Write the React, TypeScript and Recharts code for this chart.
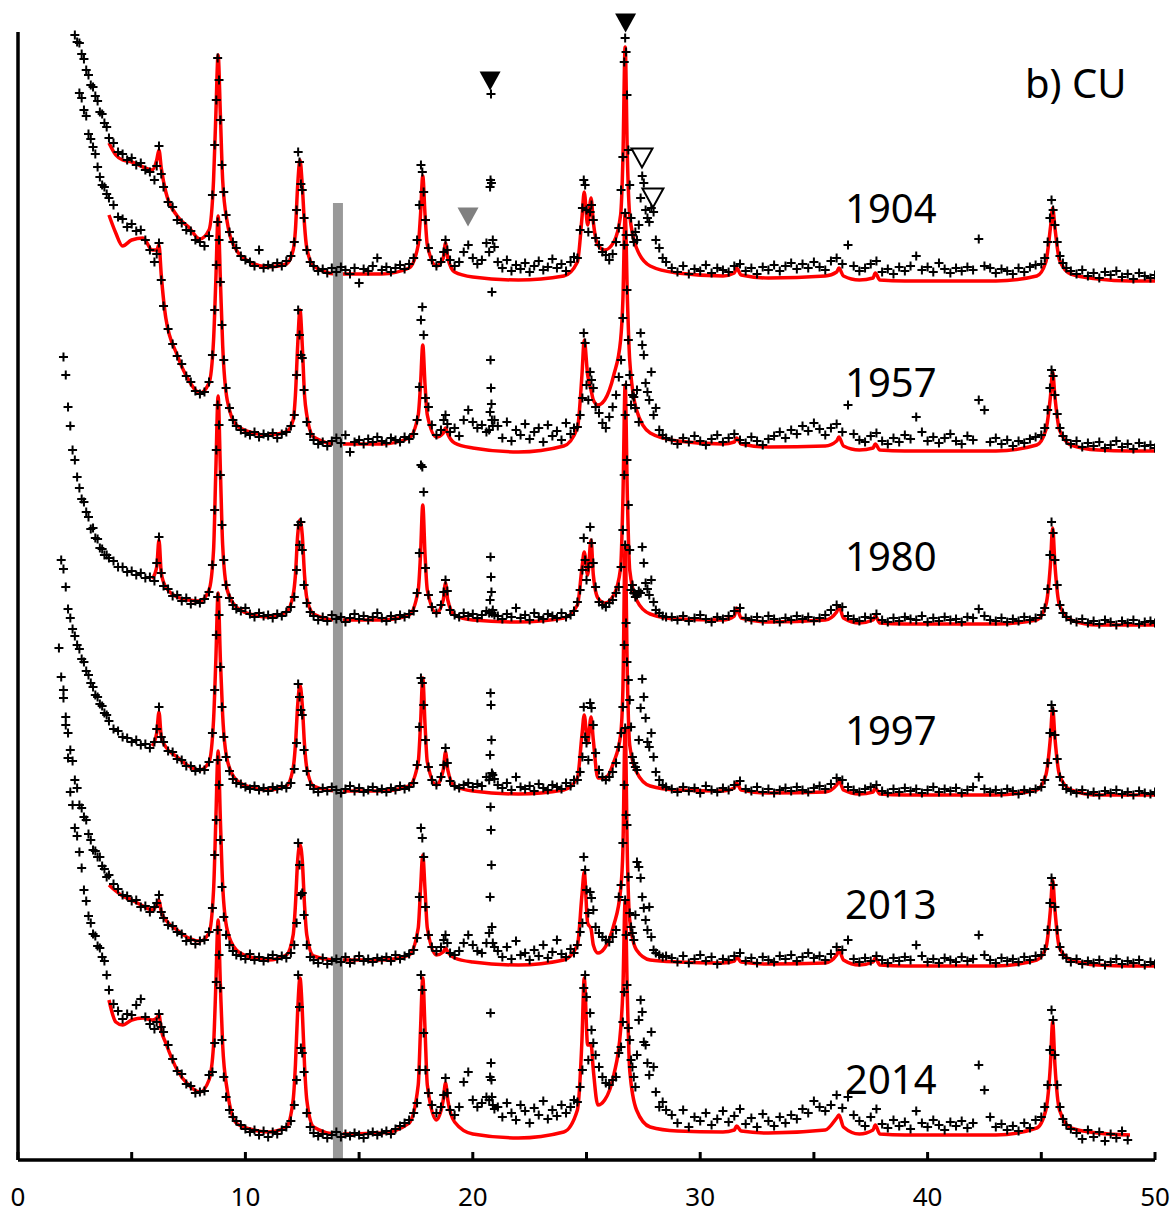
import React from "react";
import { ComposedChart, Line, Scatter, XAxis, YAxis, ReferenceLine } from "recharts";

// samples, top to bottom
const years = ["1904", "1957", "1980", "1997", "2013", "2014"];
// vertical shift that stacks the patterns
const offsets = [880, 710, 535, 365, 195, 25];

const xTicks = [0, 5, 10, 15, 20, 25, 30, 35, 40, 45, 50];
const xLabels = [0, 10, 20, 30, 40, 50];

// 2-theta grid of the fitted (red) curves
const fitX = [
  4.0, 4.3, 4.6, 5.0, 5.5, 5.9, 6.1, 6.2, 6.3, 6.5,
  7.0, 7.5, 8.0, 8.4, 8.6, 8.7, 8.8, 8.9, 9.0, 9.2,
  9.6, 10.2, 11.0, 11.8, 12.1, 12.2, 12.3, 12.4, 12.5, 12.6,
  12.7, 13.0, 14.0, 16.0, 17.2, 17.6, 17.7, 17.8, 17.9, 18.0,
  18.4, 18.7, 18.8, 18.9, 19.2, 20.0, 22.0, 24.0, 24.6, 24.8,
  24.9, 25.05, 25.2, 25.3, 25.5, 25.8, 26.2, 26.5, 26.6, 26.7,
  26.8, 26.9, 27.2, 27.8, 29.0, 31.0, 31.5, 31.6, 31.8, 33.0,
  35.5, 36.0, 36.1, 36.3, 37.0, 37.6, 37.7, 37.9, 39.0, 43.0,
  44.8, 45.2, 45.4, 45.5, 45.6, 45.8, 46.3, 47.5, 48.9, 50.0,
];

// fitted intensity above each pattern's baseline
const fit1904 = [
  137, 125, 120, 118, 113, 110, 120, 130, 112, 88,
  64, 53, 41, 50, 100, 165, 225, 165, 100, 58,
  30, 18, 13, 16, 30, 50, 95, 120, 95, 55,
  32, 14, 6, 6, 12, 35, 65, 104, 65, 35,
  14, 22, 37, 22, 8, 3, 0, 4, 18, 62,
  88, 55, 82, 58, 35, 30, 38, 65, 120, 233,
  120, 65, 32, 14, 7, 4, 7, 12, 5, 2,
  4, 8, 12, 4, 0, 2, 7, 0, -1, -1,
  4, 18, 52, 72, 52, 20, 6, 1, -1, -1,
];
const fit1957 = [
  235, 217, 204, 210, 212, 200, 200, 205, 175, 132,
  95, 70, 57, 67, 110, 170, 234, 170, 105, 50,
  25, 18, 15, 18, 30, 55, 105, 140, 105, 55,
  35, 13, 6, 6, 12, 35, 65, 105, 65, 35,
  13, 17, 22, 16, 7, 2, -2, 4, 22, 75,
  110, 75, 60, 50, 45, 50, 75, 110, 150, 237,
  150, 90, 40, 17, 9, 6, 8, 12, 6, 3,
  4, 9, 13, 4, 0, 2, 6, 0, -1, -1,
  5, 20, 53, 78, 53, 20, 5, 0, -1, -1,
];
const fit1980 = [
  null, null, null, null, null, 46, 58, 85, 52, 38,
  28, 25, 24, 35, 75, 155, 229, 155, 80, 35,
  18, 11, 8, 13, 30, 50, 90, 105, 90, 50,
  27, 11, 5, 5, 10, 35, 70, 120, 70, 35,
  12, 25, 42, 25, 10, 5, 3, 7, 20, 57,
  73, 50, 85, 50, 27, 22, 30, 57, 125, 240,
  125, 55, 25, 11, 6, 5, 9, 17, 7, 3,
  5, 13, 19, 7, 2, 5, 9, 2, 1, 1,
  5, 20, 60, 97, 60, 20, 5, 0, 0, 0,
];
const fit1997 = [
  null, null, null, null, null, 49, 62, 83, 58, 48,
  38, 29, 25, 33, 75, 135, 202, 135, 80, 35,
  15, 8, 5, 9, 27, 50, 90, 110, 90, 50,
  27, 9, 4, 4, 9, 33, 70, 117, 70, 33,
  10, 25, 43, 25, 9, 4, 1, 5, 17, 60,
  80, 52, 78, 55, 17, 17, 33, 60, 105, 250,
  115, 50, 23, 9, 5, 4, 7, 12, 5, 2,
  3, 10, 15, 5, 1, 3, 7, 1, 0, 0,
  5, 20, 57, 87, 57, 20, 5, 0, 0, 0,
];
const fit2013 = [
  80, 74, 69, 65, 59, 55, 60, 65, 53, 45,
  35, 27, 24, 32, 75, 145, 214, 145, 80, 35,
  15, 8, 5, 10, 30, 60, 105, 120, 105, 60,
  30, 9, 5, 5, 10, 37, 75, 110, 75, 37,
  10, 13, 17, 13, 7, 3, 0, 5, 20, 70,
  93, 42, 36, 20, 12, 17, 40, 75, 115, 237,
  105, 45, 15, 5, 3, 2, 4, 8, 3, 1,
  2, 10, 15, 5, 0, 3, 7, 0, -1, -1,
  5, 17, 55, 85, 55, 17, 5, 0, -1, -1,
];
const fit2014 = [
  135, 113, 110, 115, 117, 115, 117, 120, 105, 92,
  65, 50, 43, 55, 90, 150, 215, 150, 90, 45,
  12, 6, 3, 8, 35, 70, 125, 157, 125, 70,
  35, 8, 1, 2, 12, 50, 105, 157, 105, 50,
  15, 35, 52, 35, 13, 1, -3, 3, 25, 95,
  157, 90, 90, 65, 30, 35, 60, 105, 145, 235,
  135, 65, 25, 8, 4, 3, 5, 9, 4, 2,
  5, 17, 20, 8, 1, 5, 10, 1, 0, 0,
  7, 25, 70, 113, 70, 25, 7, 2, 0, null,
];

// 2-theta grid of the measured points (one line per range)
const scanX = [
  1.8, 1.9, 2.0, 2.1, 2.2, 2.3, 2.4, 2.5, 2.6, 2.7, 2.8, 2.9, 3.0, 3.1, 3.2, 3.3, 3.4, 3.5, 3.6, 3.7, 3.8, 3.9,
  4.0, 4.2, 4.4, 4.6, 4.8, 5.0, 5.2, 5.4, 5.6, 5.8, 6.0, 6.1, 6.2, 6.3, 6.4, 6.6, 6.8, 7.0, 7.2, 7.4, 7.6, 7.8, 8.0, 8.2, 8.4,
  8.55, 8.65, 8.72, 8.78, 8.84, 8.9, 8.97, 9.05, 9.15, 9.3, 9.45, 9.6,
  9.8, 10.0, 10.2, 10.4, 10.6, 10.8, 11.0, 11.2, 11.4, 11.6, 11.8, 12.0,
  12.15, 12.25, 12.32, 12.38, 12.44, 12.5, 12.58, 12.7, 12.85,
  13.0, 13.2, 13.4, 13.6, 13.8, 14.0, 14.2, 14.4, 14.6, 14.8, 15.0, 15.2, 15.4, 15.6, 15.8, 16.0, 16.2, 16.4, 16.6, 16.8, 17.0, 17.2, 17.4,
  17.55, 17.65, 17.72, 17.78, 17.84, 17.92, 18.05, 18.2, 18.4, 18.6, 18.72, 18.8, 18.88, 19.0, 19.2, 19.4, 19.6, 19.8, 20.0, 20.2, 20.4, 20.6,
  20.72, 20.76, 20.78, 20.8, 20.82, 20.84, 20.88, 20.95,
  21.1, 21.3, 21.5, 21.7, 21.9, 22.1, 22.3, 22.5, 22.7, 22.9, 23.1, 23.3, 23.5, 23.7, 23.9, 24.1, 24.3, 24.45,
  24.6, 24.72, 24.82, 24.88, 24.94, 25.0, 25.08, 25.16, 25.22, 25.3, 25.4, 25.55, 25.7, 25.85, 26.0, 26.15, 26.3, 26.42, 26.52, 26.6,
  26.66, 26.7, 26.74, 26.78, 26.84, 26.9, 26.96, 27.02, 27.08, 27.15, 27.22, 27.3, 27.38, 27.45, 27.52, 27.6, 27.68, 27.76, 27.85, 27.95,
  28.05, 28.2, 28.35, 28.5,
  28.75, 29.0, 29.25, 29.5, 29.75, 30.0, 30.25, 30.5, 30.75, 31.0, 31.25, 31.5, 31.75, 32.0, 32.25, 32.5, 32.75, 33.0, 33.25, 33.5,
  33.75, 34.0, 34.25, 34.5, 34.75, 35.0, 35.25, 35.5, 35.75, 36.0, 36.25, 36.5, 36.75, 37.0, 37.25, 37.5, 37.75, 38.0, 38.25, 38.5,
  38.75, 39.0, 39.25, 39.5, 39.75, 40.0, 40.25, 40.5, 40.75, 41.0, 41.25, 41.5, 41.75, 42.0, 42.25, 42.5, 42.75, 43.0, 43.25, 43.5,
  43.75, 44.0, 44.25, 44.5, 44.75,
  45.0, 45.15, 45.28, 45.38, 45.45, 45.52, 45.6, 45.7, 45.82, 45.95, 46.1,
  46.3, 46.55, 46.8, 47.05, 47.3, 47.55, 47.8, 48.05, 48.3, 48.55, 48.8, 49.05, 49.3, 49.55, 49.8, 50.0,
];

// measured intensity above each pattern's baseline, same layout as scanX
const scan1904 = [
  null, null, null, null, null, null, null, 245, 238, 237, 226, 221, 210, 205, 195, 193, 184, 179, 168, 166, 157, 153,
  142, 137, 128, 126, 120, 122, 115, 117, 110, 108, 100, 114, 134, 106, 93, 78, 73, 60, 57, 50, 49, 40, 38, 34, 44,
  85, 135, 180, 222, 200, 160, 115, 88, 65, 48, 38, 32,
  24, 20, 18, 14, 30, 12, 15, 13, 17, 14, 19, 24,
  38, 70, 128, 118, 96, 90, 62, 30, 18,
  14, 9, 11, 7, 12, 8, 13, 10, 6, 12, -3, 11, 9, 14, 22, 10, 13, 8, 12, 15, 11, 16, 22,
  40, 75, 115, 108, 88, 60, 32, 20, 14, 18, 28, 40, 30, 20, 14, 18, 28, 35, 22, 16, 20, 37,
  28, 93, 100, 186, 97, -12, 40, 33,
  18, 12, 20, 9, 15, 11, 17, 8, 14, 19, 10, 13, 21, 12, 16, 9, 18, 23,
  22, 50, 72, 100, 95, 70, 48, 68, 75, 60, 42, 35, 28, 25, 20, 26, 38, 52, 90, 123,
  218, 242, 228, 185, 130, 95, 62, 45, 38, 48, 40, 55, 82, 104, 97, 70, 62, 58, 72, 68,
  40, 32, 22, 18,
  12, 8, 14, 6, 11, 9, 15, 7, 12, 10, 8, 14, 16, 9, 12, 6, 13, 10, 15, 9,
  14, 17, 11, 16, 12, 18, 13, 10, 19, 22, 16, 35, 14, 9, 12, 16, 19, 8, 11, 6,
  13, 9, 14, 24, 10, 13, 8, 17, 11, 7, 12, 9, 13, 10, 41, 14, 12, 7, 11, 9,
  6, 12, 8, 13, 15,
  16, 22, 38, 62, 80, 70, 55, 38, 24, 17, 12,
  9, 6, 10, 4, 7, 2, 8, 5, 9, 3, 6, 1, 7, 4, 2, 5,
];
const scan1957 = [
  null, null, null, null, null, null, null, null, null, 357, 352, 340, 334, 316, 311, 303, 296, 283, 273, 265, 263, 256,
  252, 245, 233, 231, 223, 226, 219, 220, 210, 200, 188, 196, 207, 170, 144, 121, 106, 94, 86, 74, 68, 59, 56, 58, 68,
  95, 140, 185, 228, 210, 168, 125, 90, 62, 42, 30, 24,
  20, 17, 15, 18, 13, 16, 14, 17, 12, 16, 18, 24,
  35, 75, 140, 115, 95, 92, 60, 28, 16,
  10, 6, 8, 4, 9, 12, 7, 15, -2, 8, 10, 6, 11, 8, 13, 9, 7, 12, 10, 8, 13, 11, 16,
  30, 63, 130, 143, 115, 52, 43, 25, 15, 20, 30, 35, 26, 18, 22, 14, 30, 40, 28, 22, 25, 18,
  20, 38, 90, 62, 46, 30, 24, 30,
  24, 12, 28, 9, 20, 15, 26, 11, 18, 22, 8, 25, 14, 19, 10, 27, 16, 22,
  23, 35, 52, 117, 107, 65, 50, 78, 70, 62, 43, 37, 27, 22, 33, 43, 55, 73, 90, 132,
  205, 237, 215, 160, 110, 75, 45, 55, 53, 42, 60, 28, 117, 105, 95, 67, 58, 50, 78, 35,
  42, 20, 15, 12,
  10, 6, 12, 8, 14, 9, 5, 11, 15, 8, 12, 16, 10, 7, 13, 9, 5, 11, 14, 18,
  12, 20, 16, 24, 19, 27, 21, 15, 22, 26, 18, 45, 16, 10, 8, 14, 17, 9, 6, 12,
  8, 15, 11, 33, 18, 9, 13, 7, 12, 16, 9, 6, 14, 10, 50, 40, 8, 12, 6, 10,
  4, 9, 7, 11, 13,
  15, 22, 40, 62, 80, 74, 55, 36, 22, 14, 10,
  6, 9, 3, 7, 4, 8, 2, 5, 9, 3, 6, 1, 7, 4, 5, 2,
];
const scan1980 = [
  null, null, 268, 250, 218, 199, 175, 165, 148, 137, 126, 123, 113, 108, 96, 97, 87, 86, 77, 76, 70, 70,
  67, 64, 58, 58, 53, 54, 50, 52, 47, 48, 44, 62, 88, 52, 39, 36, 29, 30, 24, 27, 21, 24, 22, 26, 33,
  60, 115, 175, 220, 200, 150, 100, 65, 40, 27, 20, 16,
  14, 17, 11, 8, 12, 9, 10, 7, 11, 9, 13, 18,
  28, 55, 100, 80, 103, 75, 40, 22, 13,
  9, 5, 8, 4, 10, 6, 8, 3, 7, 11, 6, 9, 5, 8, 12, 7, 4, 9, 6, 10, 8, 11, 14,
  32, 72, 160, 158, 133, 57, 30, 18, 12, 20, 33, 45, 34, 15, 10, 8, 12, 9, 11, 7, 10, 14,
  12, 25, 68, 48, 33, 12, 15, 10,
  9, 6, 11, 8, 17, 7, 10, 5, 12, 8, 6, 11, 9, 7, 12, 8, 10, 14,
  23, 35, 55, 87, 65, 45, 58, 98, 82, 62, 38, 23, 20, 18, 22, 25, 32, 38, 58, 95,
  150, 210, 240, 165, 120, 75, 35, 40, 32, 28, 30, 34, 32, 78, 62, 42, 36, 30, 45, 23,
  15, 12, 9, 8,
  8, 5, 9, 4, 7, 10, 6, 3, 8, 6, 9, 14, 17, 7, 5, 8, 4, 9, 6, 3,
  7, 5, 9, 6, 8, 4, 7, 10, 15, 20, 18, 9, 6, 4, 8, 7, 11, 5, 3, 7,
  4, 8, 6, 5, 9, 3, 7, 4, 8, 5, 6, 3, 8, 7, 16, 9, 5, 4, 7, 3,
  6, 4, 8, 5, 7,
  10, 17, 36, 70, 103, 92, 65, 40, 20, 12, 8,
  5, 3, 6, 2, 4, 1, 5, 3, 0, 4, 2, 5, 1, 3, 4, 2,
];
const scan1997 = [
  null, 235, 226, 208, 186, 177, 166, 159, 150, 146, 136, 133, 124, 120, 112, 108, 100, 98, 91, 89, 82, 80,
  74, 66, 64, 58, 57, 53, 55, 50, 51, 47, 53, 66, 88, 58, 53, 44, 43, 36, 35, 29, 29, 24, 26, 25, 33,
  62, 105, 160, 198, 180, 128, 88, 58, 38, 24, 16, 12,
  11, 8, 6, 9, 5, 7, 4, 8, 6, 9, 7, 12,
  26, 52, 111, 98, 85, 80, 45, 24, 10,
  6, 3, 7, 4, 8, 5, 2, 6, 9, 4, 7, 3, 5, 8, 4, 6, 3, 7, 5, 9, 6, 8, 12,
  30, 68, 117, 112, 90, 55, 28, 15, 10, 18, 30, 47, 32, 14, 9, 7, 10, 12, 8, 11, 9, 18,
  15, 40, 102, 90, 55, 22, 20, 16,
  10, 7, 12, 5, 18, 8, 6, 9, 4, 11, 7, 5, 10, 8, 6, 12, 9, 15,
  15, 23, 38, 88, 58, 52, 35, 92, 87, 70, 42, 25, 18, 15, 18, 23, 32, 48, 62, 88,
  150, 250, 172, 133, 115, 95, 68, 38, 32, 28, 25, 55, 87, 116, 98, 77, 53, 48, 62, 38,
  23, 15, 10, 8,
  6, 3, 8, 4, 7, 2, 9, 5, 3, 7, 5, 10, 14, 6, 4, 8, 3, 6, 2, 5,
  7, 4, 8, 5, 3, 7, 9, 6, 11, 17, 15, 8, 5, 3, 6, 8, 10, 4, 2, 6,
  3, 7, 4, 6, 2, 5, 8, 3, 6, 4, 7, 2, 5, 8, 18, 6, 3, 5, 2, 6,
  4, 1, 5, 3, 6,
  8, 15, 32, 62, 90, 84, 60, 36, 18, 10, 6,
  4, 2, 5, 1, 3, 0, 4, 2, 5, 1, 3, 0, 4, 2, 1, 3,
];
const scan2013 = [
  null, null, 275, 248, 232, 215, 204, 185, 177, 160, 157, 148, 145, 131, 125, 115, 114, 108, 108, 99, 96, 88,
  90, 81, 76, 70, 69, 64, 65, 58, 59, 53, 58, 62, 70, 53, 47, 40, 39, 33, 31, 24, 25, 21, 24, 25, 33,
  57, 110, 145, 205, 180, 125, 78, 48, 30, 20, 14, 10,
  9, 6, 11, 5, 8, 4, 7, 10, 6, 9, 7, 12,
  20, 42, 122, 100, 70, 72, 50, 20, 8,
  5, 2, 7, 1, 4, 6, 3, 8, 2, 5, 9, 4, 6, 3, 7, 5, 8, 4, 10, 6, 9, 11, 15,
  27, 68, 137, 127, 108, 58, 30, 18, 14, 18, 25, 30, 22, 12, 10, 14, 22, 30, 20, 14, 12, 22,
  32, 68, 158, 135, 100, 38, 22, 18,
  14, 8, 18, 6, 24, 10, 12, 5, 15, 9, 20, 7, 13, 25, 11, 8, 16, 12,
  20, 33, 42, 108, 95, 75, 52, 73, 67, 55, 38, 32, 28, 25, 23, 28, 35, 68, 80, 122,
  180, 237, 150, 140, 88, 52, 38, 32, 25, 50, 103, 98, 87, 68, 57, 45, 35, 58, 28, 15,
  12, 10, 8, 9,
  7, 3, 9, 2, 6, 10, 4, 8, 1, 6, 5, 9, 12, 4, 7, 2, 8, 5, 3, 9,
  6, 10, 4, 8, 12, 7, 9, 5, 11, 18, 15, 25, 6, 3, 7, 4, 9, 5, 2, 7,
  4, 8, 5, 20, 9, 3, 6, 2, 7, 5, 3, 8, 4, 6, 30, 10, 5, 2, 7, 4,
  6, 3, 8, 5, 9,
  10, 16, 35, 62, 87, 80, 58, 35, 18, 10, 7,
  3, 6, 1, 4, 2, 5, 0, 3, 6, 1, 4, 2, 5, 0, 3, 1,
];
const scan2014 = [
  487, 458, 437, 410, 377, 343, 330, 307, 299, 283, 267, 245, 234, 219, 212, 201, 199, 189, 187, 178, 174, 160,
  145, 131, 124, 116, 121, 120, 130, 136, 118, 111, 106, 113, 121, 108, 103, 90, 76, 64, 61, 51, 49, 42, 43, 44, 60,
  63, 92, 153, 205, 180, 147, 95, 58, 38, 25, 18, 14,
  10, 6, 3, 5, 0, 4, -2, 3, 1, 5, 8, 14,
  30, 55, 160, 128, 87, 82, 63, 22, 8,
  2, -1, 1, -3, 0, 3, -2, 1, -1, 2, 0, -3, 1, 3, 0, 2, 4, 1, 6, 9, 12, 15, 22,
  32, 65, 160, 145, 102, 65, 42, 30, 22, 28, 40, 57, 42, 25, 20, 28, 53, 63, 35, 28, 32, 38,
  35, 58, 122, 72, 55, 38, 30, 26,
  28, 18, 32, 22, 15, 30, 24, 12, 27, 20, 34, 16, 25, 19, 30, 22, 28, 35,
  33, 48, 65, 147, 160, 138, 75, 122, 105, 92, 80, 68, 58, 52, 50, 55, 58, 82, 88, 113,
  143, 235, 200, 150, 107, 95, 75, 68, 58, 48, 80, 115, 135, 123, 93, 90, 72, 60, 103, 68,
  43, 28, 33, 25,
  20, 12, 25, 8, 18, 14, 22, 10, 16, 24, 13, 19, 26, 11, 17, 8, 21, 14, 9, 18,
  12, 20, 16, 26, 22, 34, 28, 24, 30, 40, 27, 38, 20, 14, 9, 18, 26, 11, 7, 15,
  9, 13, 6, 24, 12, 8, 15, 10, 5, 13, 9, 14, 7, 12, 70, 45, 18, 8, 11, 5,
  9, 4, 12, 7, 15,
  18, 28, 50, 85, 125, 115, 80, 50, 28, 16, 10,
  6, 2, -4, 5, -2, 3, -6, 1, -3, 4, -5, null, null, null, null, null,
];

// reflection markers (triangles)
const blackMarkX = [20.76, 26.72];
const blackMarkY = [1079, 1137];
const greyMarkX = [19.79];
const greyMarkY = [943];
const openMarkX = [27.44, 27.92];
const openMarkY = [1002, 962];

// grey band
const bandX = 14.07;
const bandTop = 957;
const axisTop = 1128;

const fits = [fit1904, fit1957, fit1980, fit1997, fit2013, fit2014];
const scans = [scan1904, scan1957, scan1980, scan1997, scan2013, scan2014];

const fitSeries = fits.map((vals, i) =>
  fitX.map((x, j) => ({ x, y: vals[j] == null ? null : vals[j] + offsets[i] }))
);
const scanSeries = scans.map((vals, i) =>
  scanX.flatMap((x, j) => (vals[j] == null ? [] : [{ x, y: vals[j] + offsets[i] }]))
);
const markPoints = (xs: number[], ys: number[]) => xs.map((x, i) => ({ x, y: ys[i] }));

const FONT = "'Noto Sans', 'Open Sans', sans-serif";
const labelTops = [188, 362, 536, 710, 884, 1059];

const Plus = (p: any) => (
  <path
    d={`M${p.cx - 4.5},${p.cy}h9M${p.cx},${p.cy - 4.5}v9`}
    stroke="#000"
    strokeWidth={2}
    fill="none"
  />
);

const triangle = (fill: string, stroke: boolean) => (p: any) => (
  <path
    d={`M${p.cx - 10.5},${p.cy - 9.5}h21L${p.cx},${p.cy + 9.5}Z`}
    fill={fill}
    stroke={stroke ? "#000" : "none"}
    strokeWidth={2}
  />
);

function AxisTick(props: any) {
  const { x, y, payload } = props;
  const v = payload.value;
  return (
    <g>
      <line x1={x} x2={x} y1={y} y2={y - 8} stroke="#000" strokeWidth={3} />
      {xLabels.includes(v) && (
        <text x={x} y={y + 46} textAnchor="middle" fontSize={26} fontFamily={FONT} fill="#000">
          {v}
        </text>
      )}
    </g>
  );
}

export default function App() {
  return (
    <div style={{ position: "relative", width: 1176, height: 1216, background: "#fff" }}>
      <style>{"body{margin:0;}"}</style>
      <ComposedChart width={1176} height={1216} margin={{ top: 0, right: 21, bottom: 0, left: 18 }}>
        <XAxis
          type="number"
          dataKey="x"
          domain={[0, 50]}
          ticks={xTicks}
          interval={0}
          allowDataOverflow
          height={56}
          tickSize={0}
          tickMargin={0}
          tickLine={false}
          axisLine={{ stroke: "#000", strokeWidth: 3.5 }}
          tick={<AxisTick />}
        />
        <YAxis type="number" dataKey="y" domain={[0, 1160]} allowDataOverflow hide />
        {fitSeries.map((d, i) => (
          <Line
            key={"fit" + years[i]}
            data={d}
            dataKey="y"
            type="monotone"
            stroke="#ff0000"
            strokeWidth={3.5}
            dot={false}
            activeDot={false}
            isAnimationActive={false}
          />
        ))}
        {scanSeries.map((d, i) => (
          <Scatter key={"scan" + years[i]} data={d} dataKey="y" shape={Plus} isAnimationActive={false} />
        ))}
        <ReferenceLine
          segment={[{ x: bandX, y: 0 }, { x: bandX, y: bandTop }]}
          stroke="#999999"
          strokeWidth={10}
          ifOverflow="visible"
        />
        <ReferenceLine
          segment={[{ x: 0, y: 0 }, { x: 0, y: axisTop }]}
          stroke="#000"
          strokeWidth={3.5}
          ifOverflow="visible"
        />
        <Scatter data={markPoints(blackMarkX, blackMarkY)} dataKey="y" shape={triangle("#000", false)} isAnimationActive={false} />
        <Scatter data={markPoints(greyMarkX, greyMarkY)} dataKey="y" shape={triangle("#808080", false)} isAnimationActive={false} />
        <Scatter data={markPoints(openMarkX, openMarkY)} dataKey="y" shape={triangle("#fff", true)} isAnimationActive={false} />
      </ComposedChart>
      {years.map((yr, i) => (
        <div
          key={yr}
          style={{ position: "absolute", left: 845, top: labelTops[i], fontFamily: FONT, fontSize: 40, lineHeight: "40px", color: "#000" }}
        >
          {yr}
        </div>
      ))}
      <div style={{ position: "absolute", left: 1025, top: 63, fontFamily: FONT, fontSize: 40, lineHeight: "40px", color: "#000" }}>
        b) CU
      </div>
    </div>
  );
}
